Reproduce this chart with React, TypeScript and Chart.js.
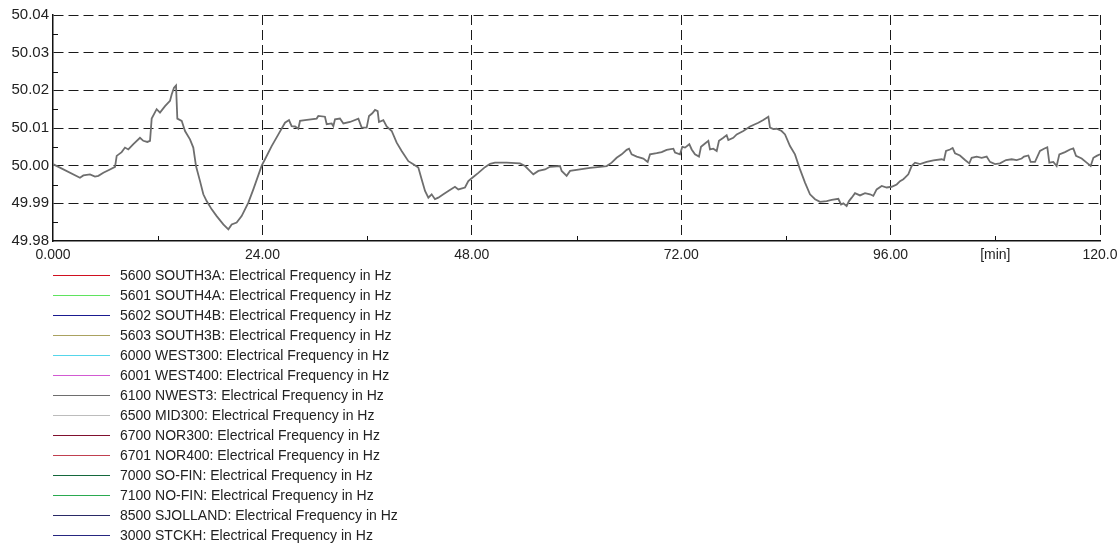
import React, { useEffect, useRef } from 'react';
import { Chart, registerables } from 'chart.js';

Chart.register(...registerables);

// Time axis of the recording, minutes from start
const MINUTES = [
  0.0, 3.09, 3.48, 4.24, 4.81, 5.2, 5.77, 6.53, 7.11, 7.3, 7.87, 8.25, 8.63, 9.21, 9.97, 10.35, 10.81, 11.12,
  11.31, 11.88, 12.26, 12.84, 13.41, 13.6, 13.87, 14.1, 14.25, 14.75, 15.13, 15.7, 16.08, 16.39, 16.85, 17.23,
  17.61, 18.19, 18.76, 19.52, 20.1, 20.48, 21.05, 21.62, 22.39, 22.96, 23.92, 24.3, 25.06, 25.83, 26.59, 27.05,
  27.35, 27.74, 28.12, 28.31, 28.88, 30.22, 30.41, 31.17, 31.37, 31.94, 32.13, 32.32, 32.89, 33.28, 34.04, 35.0,
  35.38, 35.95, 36.22, 36.6, 36.91, 37.21, 37.36, 37.86, 38.24, 38.82, 39.39, 39.96, 40.73, 41.3, 41.87, 42.25,
  42.64, 43.02, 43.4, 43.78, 44.16, 44.74, 45.31, 46.07, 46.46, 47.22, 47.6, 48.06, 48.75, 49.51, 50.09, 50.66,
  52.0, 53.52, 54.1, 54.48, 55.05, 55.63, 56.39, 56.96, 58.11, 58.3, 58.87, 59.26, 60.4, 61.55, 62.69, 63.46,
  64.03, 64.6, 65.18, 65.75, 66.02, 66.32, 66.9, 67.66, 68.16, 68.42, 69.19, 69.76, 70.33, 71.1, 71.29, 71.86,
  72.13, 72.44, 72.93, 73.2, 73.58, 74.04, 74.27, 74.73, 75.11, 75.3, 75.68, 76.07, 76.33, 76.83, 77.21, 77.4,
  77.97, 78.36, 79.12, 79.89, 80.84, 81.41, 81.99, 82.18, 82.56, 82.94, 83.51, 83.9, 84.47, 85.04, 85.62, 86.19,
  86.76, 87.34, 87.91, 88.67, 89.25, 90.01, 90.32, 90.58, 90.96, 91.23, 91.54, 91.92, 92.49, 93.07, 93.64, 94.02,
  94.4, 94.98, 95.55, 96.12, 96.7, 97.08, 97.46, 97.65, 98.03, 98.41, 98.8, 99.37, 100.13, 100.9, 101.85, 102.12,
  102.35, 102.81, 103.11, 103.38, 103.95, 104.53, 105.02, 105.29, 105.86, 106.44, 107.01, 107.39, 107.97, 108.54,
  109.23, 109.88, 110.45, 111.02, 111.29, 111.79, 112.05, 112.55, 113.12, 113.58, 113.96, 114.19, 114.65, 115.03,
  115.34, 115.99, 116.56, 116.94, 117.25, 117.9, 118.47, 118.93, 119.24, 119.62, 120.0,
];

// Measured grid frequency, Hz
const FREQ_HZ = [
  50.0004, 49.9968, 49.9974, 49.9977, 49.9971, 49.9973, 49.9981, 49.999, 49.9997, 50.0026, 50.0036, 50.0048,
  50.0043, 50.0057, 50.0074, 50.0066, 50.0063, 50.0066, 50.0125, 50.015, 50.0141, 50.0158, 50.0172, 50.0189,
  50.0207, 50.0213, 50.0125, 50.0119, 50.0092, 50.007, 50.0048, 49.9999, 49.9959, 49.9924, 49.9906, 49.9884,
  49.9866, 49.9844, 49.9831, 49.9844, 49.9849, 49.9866, 49.9902, 49.9937, 50.0, 50.0017, 50.0052, 50.0083,
  50.0114, 50.0121, 50.0105, 50.0104, 50.0098, 50.0119, 50.0121, 50.0125, 50.0132, 50.013, 50.011, 50.0112,
  50.0105, 50.0123, 50.0125, 50.0112, 50.0116, 50.0125, 50.0101, 50.0101, 50.0132, 50.0139, 50.0148, 50.0145,
  50.0116, 50.0121, 50.0104, 50.0092, 50.0061, 50.0039, 50.0012, 50.0004, 49.9995, 49.9964, 49.9933, 49.9915,
  49.9924, 49.9911, 49.9915, 49.9924, 49.9933, 49.9944, 49.9937, 49.9942, 49.9959, 49.9968, 49.9981, 49.9996,
  50.0005, 50.0008, 50.0008, 50.0006, 49.9999, 49.999, 49.9977, 49.9986, 49.999, 49.9997, 49.9999, 49.9986,
  49.9973, 49.9986, 49.999, 49.9994, 49.9997, 49.9999, 50.0008, 50.0021, 50.003, 50.0042, 50.0045, 50.003,
  50.0024, 50.0019, 50.001, 50.003, 50.0033, 50.0036, 50.0042, 50.0045, 50.0035, 50.003, 50.005, 50.0048,
  50.0057, 50.0043, 50.003, 50.0024, 50.005, 50.0059, 50.0066, 50.0043, 50.0045, 50.0039, 50.0066, 50.0074,
  50.0081, 50.0068, 50.0074, 50.0083, 50.0092, 50.0104, 50.0114, 50.0121, 50.013, 50.0101, 50.0097, 50.0098,
  50.0092, 50.0083, 50.0052, 50.003, 49.999, 49.9955, 49.9924, 49.9911, 49.9904, 49.9906, 49.9909, 49.9912,
  49.9897, 49.99, 49.9893, 49.9906, 49.9915, 49.9927, 49.9921, 49.9927, 49.9924, 49.992, 49.9937, 49.9946,
  49.9942, 49.9944, 49.995, 49.9959, 49.9964, 49.9968, 49.9977, 49.9999, 50.0008, 50.0004, 50.001, 50.0014,
  50.0017, 50.0015, 50.0039, 50.0043, 50.0047, 50.0033, 50.0027, 50.0015, 50.0006, 50.0021, 50.0024, 50.0021,
  50.0024, 50.001, 50.0004, 50.0006, 50.0015, 50.0017, 50.0015, 50.0019, 50.0024, 50.0027, 50.001, 50.001,
  50.0039, 50.0045, 50.0049, 50.0008, 50.001, 49.9999, 50.003, 50.0036, 50.0043, 50.0046, 50.0026, 50.0019,
  50.0008, 49.9999, 50.0021, 50.0026, 50.003,
];

// Measurement points listed under the plot
const SERIES_NAMES = [
  '5600 SOUTH3A: Electrical Frequency in Hz',
  '5601 SOUTH4A: Electrical Frequency in Hz',
  '5602 SOUTH4B: Electrical Frequency in Hz',
  '5603 SOUTH3B: Electrical Frequency in Hz',
  '6000 WEST300: Electrical Frequency in Hz',
  '6001 WEST400: Electrical Frequency in Hz',
  '6100 NWEST3: Electrical Frequency in Hz',
  '6500 MID300: Electrical Frequency in Hz',
  '6700 NOR300: Electrical Frequency in Hz',
  '6701 NOR400: Electrical Frequency in Hz',
  '7000 SO-FIN: Electrical Frequency in Hz',
  '7100 NO-FIN: Electrical Frequency in Hz',
  '8500 SJOLLAND: Electrical Frequency in Hz',
  '3000 STCKH: Electrical Frequency in Hz',
];

const SERIES_COLORS = [
  '#d01020', '#5fe35f', '#1a1a90', '#aaa260', '#55d6ea', '#d25ad2', '#6e6e6e',
  '#bcbcbc', '#80102e', '#c04050', '#14683c', '#2aaa50', '#2a2a66', '#262680',
];

// Series that carries the recorded trace
const TRACE_INDEX = 6;

const X_TICK_LABELS = ['0.000', '24.00', '48.00', '72.00', '96.00', '120.0'];
const X_MINOR_TICKS = [12, 36, 60, 84, 108];
const Y_MINOR_TICKS = [49.985, 49.995, 50.005, 50.015, 50.025, 50.035];
const X_UNIT = '[min]';
const X_UNIT_AT = 108;

const FONT = '"Liberation Sans", Arial, sans-serif';

const decorations = {
  id: 'decorations',
  afterDatasetsDraw(chart: any) {
    const { ctx, chartArea, scales } = chart;
    const x = scales.x;
    const y = scales.y;
    ctx.save();
    ctx.strokeStyle = '#111';
    ctx.lineWidth = 1;
    ctx.beginPath();
    for (const v of Y_MINOR_TICKS) {
      const py = Math.round(y.getPixelForValue(v)) + 0.5;
      ctx.moveTo(chartArea.left, py);
      ctx.lineTo(chartArea.left + 5, py);
    }
    for (const v of X_MINOR_TICKS) {
      const px = Math.round(x.getPixelForValue(v)) + 0.5;
      ctx.moveTo(px, chartArea.bottom);
      ctx.lineTo(px, chartArea.bottom - 5);
    }
    ctx.stroke();

    // unit caption on the time axis
    ctx.font = `14px ${FONT}`;
    ctx.fillStyle = '#222';
    ctx.textAlign = 'center';
    ctx.textBaseline = 'middle';
    ctx.fillText(X_UNIT, x.getPixelForValue(X_UNIT_AT), chartArea.bottom + 14.5);
    ctx.restore();
  },
  afterDraw(chart: any) {
    // list of measurement points below the plot
    const { ctx, chartArea } = chart;
    ctx.save();
    ctx.font = `14px ${FONT}`;
    ctx.textBaseline = 'middle';
    ctx.textAlign = 'left';
    chart.data.datasets.forEach((ds: any, i: number) => {
      const rowY = Math.round(chartArea.bottom + 34 + i * 20) + 0.5;
      ctx.setLineDash([]);
      ctx.strokeStyle = SERIES_COLORS[i];
      ctx.lineWidth = 1.2;
      ctx.beginPath();
      ctx.moveTo(chartArea.left, rowY);
      ctx.lineTo(chartArea.left + 57, rowY);
      ctx.stroke();
      ctx.fillStyle = '#222';
      ctx.fillText(ds.label, chartArea.left + 67, rowY + 0.5);
    });
    ctx.restore();
  },
};

export default function App() {
  const canvasRef = useRef<HTMLCanvasElement | null>(null);

  useEffect(() => {
    document.body.style.margin = '0';
    const canvas = canvasRef.current;
    if (!canvas) return;

    const trace = MINUTES.map((m, i) => ({ x: m, y: FREQ_HZ[i] }));
    const datasets = SERIES_NAMES.map((name, i) => ({
      label: name,
      data: i === TRACE_INDEX ? trace : [],
      borderColor: SERIES_COLORS[i],
      backgroundColor: SERIES_COLORS[i],
      borderWidth: 1.8,
      pointRadius: 0,
      tension: 0,
      fill: false,
    }));

    const chart = new Chart(canvas, {
      type: 'line',
      data: { datasets },
      plugins: [decorations],
      options: {
        animation: false,
        responsive: false,
        devicePixelRatio: 1,
        layout: { padding: { top: 15, right: 17, bottom: 281, left: 0 } },
        plugins: { legend: { display: false }, tooltip: { enabled: false }, colors: { enabled: false } },
        scales: {
          x: {
            type: 'linear',
            min: 0,
            max: 120,
            afterFit: (s: any) => {
              s.height = 24;
              s.paddingLeft = 0;
              s.paddingRight = 0;
            },
            afterBuildTicks: (s: any) => {
              s.ticks = X_TICK_LABELS.map((_, i) => ({ value: i * 24 }));
            },
            ticks: {
              autoSkip: false,
              maxRotation: 0,
              padding: 6,
              color: '#222',
              font: { family: FONT, size: 14 },
              callback: (_v: any, i: number) => X_TICK_LABELS[i],
            },
            grid: {
              drawTicks: false,
              color: (c: any) => (c.tick && c.tick.value === 0 ? 'rgba(0,0,0,0)' : '#1a1a1a'),
              lineWidth: 1,
            },
            border: { display: true, color: '#111', width: 1.5, dash: [10, 5] },
          },
          y: {
            type: 'linear',
            min: 49.98,
            max: 50.04,
            afterFit: (s: any) => {
              s.width = 53;
              s.paddingTop = 0;
              s.paddingBottom = 0;
            },
            ticks: {
              stepSize: 0.01,
              padding: 4,
              color: '#222',
              font: { family: FONT, size: 15 },
              callback: (v: any) => Number(v).toFixed(2),
            },
            grid: {
              drawTicks: false,
              color: (c: any) => (c.tick && Math.abs(c.tick.value - 49.98) < 1e-6 ? 'rgba(0,0,0,0)' : '#1a1a1a'),
              lineWidth: 1,
            },
            border: { display: true, color: '#111', width: 1.5, dash: [10, 5] },
          },
        },
      },
    });

    return () => chart.destroy();
  }, []);

  return (
    <div style={{ width: 1117, height: 546, background: '#fff' }}>
      <canvas ref={canvasRef} width={1117} height={546} style={{ display: 'block' }} />
    </div>
  );
}
